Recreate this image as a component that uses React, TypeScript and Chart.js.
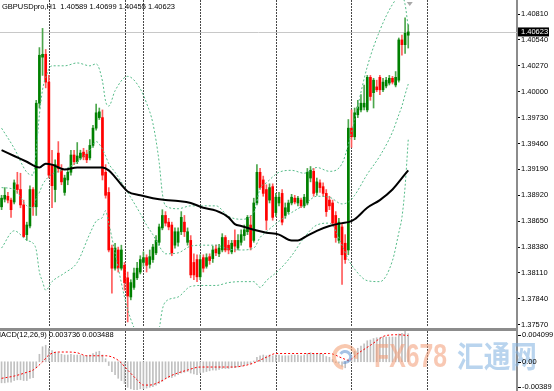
import React, { useEffect, useRef } from "react";
import { Chart, registerables } from "chart.js";

Chart.register(...registerables);

const FONT_FAMILY = '"Liberation Sans", Arial, sans-serif';
const FONT = `7.5px ${FONT_FAMILY}`;

const symbolLabel = "GBPUSDpro,H1";
const macdLabel = "MACD(12,26,9)";
const slotCount = 164;

const opens = [
  1.3880, 1.3888, 1.3891, 1.3887, 1.3885, 1.3903, 1.3898, 1.3882, 1.3851, 1.3860,
  1.3898, 1.3880, 1.3988, 1.4036, 1.4039, 1.4010, 1.3924, 1.3898, 1.3936, 1.3918,
  1.3895, 1.3908, 1.3916, 1.3934, 1.3927, 1.3931, 1.3937, 1.3935, 1.3931, 1.3944,
  1.3962, 1.3973, 1.3973, 1.3916, 1.3895, 1.3837, 1.3816, 1.3835, 1.3816, 1.3819,
  1.3806, 1.3786, 1.3796, 1.3806, 1.3812, 1.3822, 1.3827, 1.3820, 1.3825, 1.3832,
  1.3843, 1.3858, 1.3871, 1.3864, 1.3861, 1.3840, 1.3843, 1.3854, 1.3864, 1.3843,
  1.3845, 1.3822, 1.3825, 1.3807, 1.3827, 1.3818, 1.3828, 1.3826, 1.3836, 1.3831,
  1.3835, 1.3848, 1.3840, 1.3833, 1.3845, 1.3837, 1.3843, 1.3850, 1.3854, 1.3861,
  1.3845, 1.3884, 1.3916, 1.3908, 1.3898, 1.3887, 1.3901, 1.3874, 1.3884, 1.3894,
  1.3871, 1.3875, 1.3884, 1.3889, 1.3884, 1.3887, 1.3881, 1.3884, 1.3910, 1.3917,
  1.3895, 1.3905, 1.3901, 1.3894, 1.3887, 1.3884, 1.3871, 1.3845, 1.3859, 1.3842,
  1.3835, 1.3962, 1.3953, 1.3976, 1.3981, 1.3984, 1.3981, 1.4015, 1.3999, 1.4005,
  1.4015, 1.4002, 1.4006, 1.4009, 1.4014, 1.4007, 1.4012, 1.4054, 1.4049, 1.40589,
];
const highs = [
  1.3892, 1.3900, 1.3895, 1.3889, 1.3908, 1.3916, 1.3915, 1.3887, 1.3864, 1.3902,
  1.3900, 1.3991, 1.4046, 1.4066, 1.4044, 1.4017, 1.3939, 1.3929, 1.3948, 1.3924,
  1.3913, 1.3920, 1.3939, 1.3939, 1.3947, 1.3939, 1.3941, 1.3939, 1.3950, 1.3965,
  1.3987, 1.3983, 1.3981, 1.3924, 1.3900, 1.3840, 1.3842, 1.3838, 1.3840, 1.3822,
  1.3812, 1.3804, 1.3816, 1.3822, 1.3829, 1.3833, 1.3830, 1.3835, 1.3841, 1.3850,
  1.3862, 1.3877, 1.3875, 1.3868, 1.3864, 1.3858, 1.3858, 1.3875, 1.3871, 1.3858,
  1.3850, 1.3831, 1.3830, 1.3830, 1.3830, 1.3831, 1.3831, 1.3839, 1.3840, 1.3841,
  1.3852, 1.3850, 1.3845, 1.3845, 1.3856, 1.3851, 1.3856, 1.3861, 1.3871, 1.3871,
  1.3889, 1.3924, 1.3920, 1.3912, 1.3903, 1.3904, 1.3904, 1.3894, 1.3895, 1.3898,
  1.3884, 1.3887, 1.3893, 1.3892, 1.3891, 1.3889, 1.3893, 1.3920, 1.3922, 1.3920,
  1.3910, 1.3908, 1.3905, 1.3898, 1.3891, 1.3887, 1.3875, 1.3868, 1.3862, 1.3851,
  1.3971, 1.3981, 1.3983, 1.3991, 1.3997, 1.4007, 1.4017, 1.4017, 1.4014, 1.4012,
  1.4017, 1.4014, 1.4015, 1.4017, 1.4016, 1.4021, 1.4056, 1.4059, 1.4077, 1.40699,
];
const lows = [
  1.3877, 1.3885, 1.3884, 1.3869, 1.3883, 1.3894, 1.3879, 1.3848, 1.3845, 1.3858,
  1.3871, 1.3871, 1.3983, 1.4017, 1.4004, 1.3910, 1.3879, 1.3885, 1.3916, 1.3903,
  1.3892, 1.3903, 1.3913, 1.3924, 1.3925, 1.3929, 1.3929, 1.3926, 1.3929, 1.3942,
  1.3960, 1.3971, 1.3908, 1.3889, 1.3833, 1.3790, 1.3814, 1.3812, 1.3814, 1.3793,
  1.3760, 1.3783, 1.3794, 1.3804, 1.3810, 1.3818, 1.3812, 1.3816, 1.3822, 1.3830,
  1.3840, 1.3856, 1.3860, 1.3856, 1.3829, 1.3837, 1.3839, 1.3851, 1.3849, 1.3840,
  1.3806, 1.3804, 1.3802, 1.3804, 1.3812, 1.3816, 1.3820, 1.3822, 1.3829, 1.3828,
  1.3833, 1.3833, 1.3831, 1.3831, 1.3833, 1.3835, 1.3840, 1.3845, 1.3851, 1.3835,
  1.3843, 1.3882, 1.3898, 1.3891, 1.3856, 1.3884, 1.3866, 1.3870, 1.3881, 1.3861,
  1.3868, 1.3873, 1.3882, 1.3883, 1.3881, 1.3879, 1.3879, 1.3882, 1.3906, 1.3891,
  1.3892, 1.3895, 1.3891, 1.3870, 1.3877, 1.3860, 1.3843, 1.3842, 1.3799, 1.3821,
  1.3830, 1.3942, 1.3950, 1.3973, 1.3979, 1.3981, 1.3979, 1.3991, 1.3983, 1.4000,
  1.3997, 1.4000, 1.4004, 1.4007, 1.4008, 1.4005, 1.4010, 1.4038, 1.4040, 1.40455,
];
const closes = [
  1.3889, 1.3892, 1.3887, 1.3877, 1.3905, 1.3898, 1.3882, 1.3849, 1.3861, 1.3898,
  1.3880, 1.3988, 1.4038, 1.4039, 1.4010, 1.3913, 1.3902, 1.3924, 1.3920, 1.3906,
  1.3910, 1.3916, 1.3934, 1.3927, 1.3933, 1.3936, 1.3932, 1.3929, 1.3944, 1.3962,
  1.3978, 1.3979, 1.3913, 1.3892, 1.3835, 1.3816, 1.3837, 1.3816, 1.3835, 1.3801,
  1.3787, 1.3801, 1.3811, 1.3816, 1.3825, 1.3827, 1.3819, 1.3828, 1.3838, 1.3845,
  1.3859, 1.3871, 1.3863, 1.3859, 1.3832, 1.3854, 1.3854, 1.3869, 1.3854, 1.3854,
  1.3809, 1.3809, 1.3807, 1.3825, 1.3816, 1.3827, 1.3824, 1.3835, 1.3832, 1.3837,
  1.3848, 1.3835, 1.3835, 1.3842, 1.3839, 1.3845, 1.3851, 1.3856, 1.3869, 1.3838,
  1.3884, 1.3916, 1.3900, 1.3894, 1.3866, 1.3900, 1.3869, 1.3890, 1.3890, 1.3864,
  1.3879, 1.3884, 1.3890, 1.3885, 1.3889, 1.3881, 1.3890, 1.3916, 1.3918, 1.3894,
  1.3906, 1.3900, 1.3894, 1.3875, 1.3881, 1.3863, 1.3848, 1.3864, 1.3830, 1.3825,
  1.3962, 1.3953, 1.3978, 1.3984, 1.3988, 1.3988, 1.4015, 1.3995, 1.4012, 1.4002,
  1.4002, 1.4010, 1.4012, 1.4014, 1.4010, 1.4015, 1.4054, 1.4049, 1.4061, 1.40623,
];

// Bollinger bands (20, 2) read at sample bars: [bar index, price]
const upperBand: [number, number][] = [
  [0, 1.3962], [4, 1.3941], [8, 1.3916], [10, 1.3913], [11, 1.3939], [12, 1.3976], [13, 1.4002],
  [14, 1.4015], [16, 1.4027], [20, 1.4027], [24, 1.4030], [28, 1.4027], [30, 1.4029], [32, 1.4011],
  [33, 1.3990], [34, 1.3985], [36, 1.4001], [40, 1.4016], [44, 1.4003], [46, 1.3988], [48, 1.3967],
  [50, 1.3926], [51, 1.3894], [52, 1.3881], [56, 1.3878], [60, 1.3881], [64, 1.3881], [68, 1.3881],
  [72, 1.3870], [76, 1.3867], [80, 1.3874], [82, 1.3899], [84, 1.3905], [88, 1.3916], [92, 1.3918],
  [96, 1.3915], [100, 1.3921], [104, 1.3917], [108, 1.3925], [110, 1.3945], [112, 1.3971],
  [116, 1.4026], [120, 1.4064], [124, 1.4091], [126, 1.4099], [127, 1.4100], [128, 1.4091], [129, 1.4067],
];
const middleBand: [number, number][] = [
  [0, 1.3900], [4, 1.3898], [8, 1.3881], [10, 1.3879], [11, 1.3889], [12, 1.3895], [13, 1.3903],
  [14, 1.3908], [16, 1.3914], [20, 1.3919], [24, 1.3927], [28, 1.3939], [30, 1.3948], [32, 1.3940],
  [33, 1.3933], [34, 1.3925], [36, 1.3916], [40, 1.3895], [44, 1.3873], [46, 1.3861], [48, 1.3851],
  [50, 1.3839], [51, 1.3834], [52, 1.3831], [56, 1.3832], [60, 1.3839], [64, 1.3840], [68, 1.3840],
  [72, 1.3836], [76, 1.3835], [80, 1.3837], [82, 1.3848], [84, 1.3854], [88, 1.3865], [92, 1.3874],
  [96, 1.3882], [100, 1.3891], [104, 1.3890], [108, 1.3883], [110, 1.3885], [112, 1.3892],
  [116, 1.3914], [120, 1.3933], [124, 1.3958], [126, 1.3976], [127, 1.3985], [128, 1.3997], [129, 1.4008],
];
const lowerBand: [number, number][] = [
  [0, 1.3837], [4, 1.3855], [8, 1.3845], [10, 1.3842], [11, 1.3835], [12, 1.3812], [13, 1.3802],
  [14, 1.3793], [16, 1.3802], [20, 1.3811], [24, 1.3822], [28, 1.3852], [30, 1.3865], [32, 1.3869],
  [33, 1.3876], [34, 1.3863], [36, 1.3832], [40, 1.3773], [44, 1.3741], [46, 1.3734], [48, 1.3734],
  [50, 1.3753], [51, 1.3773], [52, 1.3781], [56, 1.3786], [60, 1.3797], [64, 1.3798], [68, 1.3798],
  [72, 1.3801], [76, 1.3802], [80, 1.3802], [82, 1.3796], [84, 1.3803], [88, 1.3814], [92, 1.3829],
  [96, 1.3848], [100, 1.3861], [104, 1.3863], [108, 1.3840], [110, 1.3825], [112, 1.3815],
  [116, 1.3803], [120, 1.3802], [124, 1.3824], [126, 1.3853], [127, 1.3869], [128, 1.3901], [129, 1.3950],
];
// Black moving average read at sample bars
const maLine: [number, number][] = [
  [0, 1.3939], [4, 1.3933], [8, 1.3927], [12, 1.3921], [14, 1.3925], [16, 1.3924], [20, 1.3919],
  [24, 1.3921], [28, 1.3921], [32, 1.3921], [34, 1.3918], [36, 1.3911], [38, 1.3903], [40, 1.3896],
  [44, 1.3892], [48, 1.3889], [52, 1.3887], [56, 1.3886], [60, 1.3884], [64, 1.3879], [68, 1.3876],
  [72, 1.3869], [74, 1.3862], [76, 1.3860], [80, 1.3856], [84, 1.3853], [88, 1.3851], [92, 1.3845],
  [94, 1.3845], [96, 1.3848], [100, 1.3855], [104, 1.3860], [108, 1.3863], [110, 1.3864],
  [112, 1.3867], [116, 1.3879], [120, 1.3887], [124, 1.3898], [128, 1.3914], [129, 1.3918],
];

const separators = [15, 39, 45, 63, 87, 111, 135];
const priceTicks = [
  1.4081, 1.4054, 1.4027, 1.4, 1.3973, 1.3946, 1.3919, 1.3892, 1.3865, 1.3838, 1.3811, 1.3784, 1.3757,
];
const priceMin = 1.37547;
const priceMax = 1.40956;

const macdMain = [
  -0.0028, -0.0028, -0.0027, -0.0027, -0.0025, -0.0024, -0.0024, -0.0025, -0.0025, -0.0022,
  -0.0021, -0.0008, 0.0010, 0.0020, 0.0022, 0.0018, 0.0015, 0.0013, 0.0012, 0.0010,
  0.0009, 0.0009, 0.0010, 0.0009, 0.0009, 0.0009, 0.0008, 0.0008, 0.0009, 0.0011,
  0.0013, 0.0014, 0.0009, 0.0004, -0.0005, -0.0013, -0.0017, -0.0022, -0.0025, -0.0029,
  -0.0034, -0.0036, -0.0037, -0.0037, -0.0036, -0.0036, -0.0035, -0.0034, -0.0033, -0.0031,
  -0.0029, -0.0026, -0.0022, -0.0021, -0.0021, -0.0019, -0.0017, -0.0015, -0.0014, -0.0013,
  -0.0015, -0.0016, -0.0017, -0.0015, -0.0014, -0.0013, -0.0012, -0.0011, -0.0011, -0.0010,
  -0.0009, -0.0009, -0.0009, -0.0008, -0.0008, -0.0007, -0.0006, -0.0005, -0.0003, -0.0003,
  0.0001, 0.0006, 0.0008, 0.0009, 0.0008, 0.0009, 0.0008, 0.0009, 0.0009, 0.0008,
  0.0008, 0.0008, 0.0009, 0.0009, 0.0009, 0.0008, 0.0009, 0.0011, 0.0012, 0.0011,
  0.0011, 0.0011, 0.0010, 0.0007, 0.0006, 0.0003, -0.0001, -0.0002, -0.0006, -0.0008,
  0.0002, 0.0008, 0.0014, 0.0018, 0.0021, 0.0024, 0.0028, 0.0029, 0.0031, 0.0032,
  0.0032, 0.0033, 0.0033, 0.0033, 0.0033, 0.0033, 0.0037, 0.0038, 0.0041, 0.003736,
];
const macdSignal: [number, number][] = [
  [0, -0.0022], [4, -0.0019], [8, -0.0014], [10, -0.0011], [13, 0.0], [15, 0.0009], [18, 0.0013],
  [21, 0.0013], [24, 0.0012], [27, 0.0008], [30, 0.0008], [33, 0.0008], [37, 0.0002], [40, -0.0011],
  [43, -0.0024], [45, -0.0031], [47, -0.0031], [50, -0.0027], [54, -0.0018], [59, -0.0011],
  [63, -0.0007], [68, -0.0007], [73, -0.0007], [79, -0.0003], [84, 0.0006], [87, 0.0011],
  [93, 0.0011], [98, 0.0011], [104, 0.0011], [108, 0.0005], [110, 0.0002], [113, 0.0011],
  [117, 0.0022], [122, 0.0035], [126, 0.0036], [129, 0.003488],
];
const macdMax = 0.004099;
const macdMin = -0.00389;
const macdTicks = [0.004099, 0, -0.00389];
const macdTickLabels = ["0.004099", "0.00", "-0.00389"];

const BAND_COLOR = "#55bb88";
const BULL = "#008000";
const BEAR = "#ff0000";
const BULL_WICK = "#4ca64c";
const BEAR_WICK = "#ff5c5c";
const AXIS_W = 37;

function drawSeparators(ctx: CanvasRenderingContext2D, xs: any, top: number, bottom: number) {
  ctx.save();
  ctx.strokeStyle = "rgba(40,40,40,0.85)";
  ctx.lineWidth = 1;
  ctx.setLineDash([2, 1]);
  separators.forEach((idx) => {
    const px = Math.round(xs.getPixelForValue(idx)) + 0.5;
    ctx.beginPath();
    ctx.moveTo(px, top);
    ctx.lineTo(px, bottom);
    ctx.stroke();
  });
  ctx.restore();
}

const mainDecor = {
  id: "mainDecor",
  beforeDatasetsDraw(chart: any) {
    const { ctx, chartArea: a, scales } = chart;
    const last = closes[closes.length - 1];
    const by = Math.round(scales.y.getPixelForValue(last)) + 0.5;
    ctx.save();
    ctx.strokeStyle = "#c8c8c8";
    ctx.lineWidth = 1;
    ctx.beginPath();
    ctx.moveTo(a.left, by);
    ctx.lineTo(a.right, by);
    ctx.stroke();
    ctx.restore();
    drawSeparators(ctx, scales.x, a.top, a.bottom);
  },
  afterDraw(chart: any) {
    const { ctx, chartArea: a, scales } = chart;
    const n = closes.length - 1;
    ctx.save();
    ctx.font = FONT;
    ctx.fillStyle = "#000";
    ctx.textBaseline = "middle";
    const header =
      symbolLabel + "  " + [opens[n], highs[n], lows[n], closes[n]].map((v) => v.toFixed(5)).join(" ");
    ctx.fillText(header, 2, 7);
    const py = scales.y.getPixelForValue(closes[n]);
    ctx.fillStyle = "#000";
    ctx.fillRect(a.right + 1, py - 4.5, 31, 9);
    ctx.fillStyle = "#fff";
    ctx.fillText(closes[n].toFixed(5), a.right + 4, py);
    const sx = scales.x.getPixelForValue(n) + 1.5;
    ctx.fillStyle = "#a8a8a8";
    ctx.beginPath();
    ctx.moveTo(sx - 3, 2);
    ctx.lineTo(sx + 3, 2);
    ctx.lineTo(sx, 6);
    ctx.closePath();
    ctx.fill();
    ctx.fillStyle = "#8c8c8c";
    ctx.fillRect(0, a.bottom + 1, a.right + 1, 3);
    ctx.restore();
  },
};

const macdDecor = {
  id: "macdDecor",
  beforeDatasetsDraw(chart: any) {
    const { ctx, chartArea: a, scales } = chart;
    drawSeparators(ctx, scales.x, a.top, a.bottom);
  },
  afterDraw(chart: any) {
    const { ctx, chartArea: a, scales } = chart;
    ctx.save();
    ctx.globalAlpha = 0.55;
    ctx.lineWidth = 4;
    ctx.strokeStyle = "#f29a6e";
    ctx.beginPath();
    ctx.arc(345, 26, 11, Math.PI * 0.55, Math.PI * 2.05);
    ctx.stroke();
    ctx.lineWidth = 3;
    ctx.strokeStyle = "#5d8fcf";
    ctx.beginPath();
    ctx.arc(345, 26, 5.5, Math.PI * 1.2, Math.PI * 2.6);
    ctx.stroke();
    ctx.font = `bold 34px ${FONT_FAMILY}`;
    ctx.textBaseline = "alphabetic";
    const fxText = "FX678";
    const fxW = ctx.measureText(fxText).width;
    ctx.save();
    ctx.translate(374, 36);
    ctx.scale(73 / fxW, 1);
    ctx.fillStyle = "#f39b74";
    ctx.fillText(fxText, 0, 0);
    ctx.restore();
    ctx.font = `bold 30px "Noto Sans CJK SC", sans-serif`;
    const cnText = "汇通网";
    const cnW = ctx.measureText(cnText).width;
    ctx.save();
    ctx.translate(457, 36);
    ctx.scale(80 / cnW, 1);
    ctx.fillStyle = "#7fb0e0";
    ctx.fillText(cnText, 0, 0);
    ctx.restore();
    ctx.globalAlpha = 1;
    ctx.font = FONT;
    ctx.fillStyle = "#000";
    ctx.textBaseline = "middle";
    const offs = [3.5, 0, -4.3];
    macdTicks.forEach((v, k) => {
      const ty = scales.y.getPixelForValue(v) + offs[k];
      ctx.fillRect(a.right + 1, Math.round(ty), 3, 1);
      ctx.fillText(macdTickLabels[k], a.right + 5, ty);
    });
    const n = macdMain.length - 1;
    const head =
      macdLabel + " " + macdMain[n].toFixed(6) + " " + macdSignal[macdSignal.length - 1][1].toFixed(6);
    const mW = ctx.measureText("M").width;
    ctx.fillText(head, 1 - mW, 4);
    ctx.restore();
  },
};

function xScaleCfg() {
  return {
    type: "linear" as const,
    min: -0.5,
    max: slotCount - 0.5,
    offset: false,
    grace: 0,
    display: false,
  };
}

export default function App() {
  const mainRef = useRef<HTMLCanvasElement>(null);
  const macdRef = useRef<HTMLCanvasElement>(null);

  useEffect(() => {
    Chart.defaults.font.family = FONT_FAMILY;
    const up = closes.map((c, i) => c >= opens[i]);
    const line = (pts: [number, number][], color: string, width: number, dash: number[], order: number) => ({
      type: "line" as const,
      data: pts.map(([x, y]) => ({ x, y })),
      borderColor: color,
      borderWidth: width,
      borderDash: dash,
      pointRadius: 0,
      cubicInterpolationMode: "monotone" as const,
      order,
    });

    const mainChart = new Chart(mainRef.current as HTMLCanvasElement, {
      type: "bar",
      data: {
        datasets: [
          line(upperBand, BAND_COLOR, 1, [2, 2], 1),
          line(middleBand, BAND_COLOR, 1, [2, 2], 1),
          line(lowerBand, BAND_COLOR, 1, [2, 2], 1),
          line(maLine, "#000000", 2, [], 0),
          {
            type: "bar",
            data: highs.map((h, i) => ({ x: i, y: [lows[i], h] })),
            backgroundColor: up.map((u) => (u ? BULL_WICK : BEAR_WICK)),
            barThickness: 1,
            grouped: false,
            borderWidth: 0,
            order: 3,
          } as any,
          {
            type: "bar",
            data: opens.map((o, i) => ({ x: i, y: [o, closes[i]] })),
            backgroundColor: up.map((u) => (u ? BULL : BEAR)),
            barThickness: 2,
            grouped: false,
            borderWidth: 0,
            minBarLength: 1,
            order: 2,
          } as any,
        ],
      },
      options: {
        responsive: false,
        animation: false,
        devicePixelRatio: 1,
        events: [],
        layout: { padding: { top: 0, bottom: 4, left: 0, right: 0 } },
        plugins: { legend: { display: false }, tooltip: { enabled: false } },
        scales: {
          x: xScaleCfg(),
          y: {
            type: "linear",
            position: "right",
            min: priceMin,
            max: priceMax,
            afterBuildTicks: (s: any) => {
              s.ticks = priceTicks.map((value) => ({ value }));
            },
            afterFit: (s: any) => {
              s.width = AXIS_W;
              s.paddingTop = 0;
              s.paddingBottom = 0;
            },
            ticks: {
              autoSkip: false,
              padding: 1,
              color: "#000",
              font: { size: 7.5, family: FONT_FAMILY },
              callback: (v: any) => Number(v).toFixed(5),
            },
            grid: { drawOnChartArea: false, tickLength: 3, color: "#000", tickWidth: 1 },
            border: { display: true, color: "#8c8c8c", width: 2 },
          },
        },
      },
      plugins: [mainDecor],
    } as any);

    const macdChart = new Chart(macdRef.current as HTMLCanvasElement, {
      type: "bar",
      data: {
        datasets: [
          line(macdSignal, "#ff0000", 1, [2, 2], 0),
          {
            type: "bar",
            data: macdMain.map((v, i) => ({ x: i, y: v })),
            backgroundColor: "#c0c0c0",
            barThickness: 1,
            grouped: false,
            borderWidth: 0,
            order: 1,
          } as any,
        ],
      },
      options: {
        responsive: false,
        animation: false,
        devicePixelRatio: 1,
        events: [],
        layout: { padding: 0 },
        plugins: { legend: { display: false }, tooltip: { enabled: false } },
        scales: {
          x: xScaleCfg(),
          y: {
            type: "linear",
            position: "right",
            min: macdMin,
            max: macdMax,
            ticks: { display: false },
            grid: { display: false, drawTicks: false },
            afterFit: (s: any) => {
              s.width = AXIS_W;
              s.paddingTop = 0;
              s.paddingBottom = 0;
            },
            border: { display: true, color: "#8c8c8c", width: 2 },
          },
        },
      },
      plugins: [macdDecor],
    } as any);

    return () => {
      mainChart.destroy();
      macdChart.destroy();
    };
  }, []);

  return (
    <div
      style={{
        position: "fixed",
        left: 0,
        top: 0,
        width: 554,
        height: 391,
        background: "#ffffff",
        overflow: "hidden",
      }}
    >
      <canvas
        ref={mainRef}
        width={554}
        height={331}
        style={{ position: "absolute", left: 0, top: 0, width: 554, height: 331 }}
      />
      <canvas
        ref={macdRef}
        width={554}
        height={60}
        style={{ position: "absolute", left: 0, top: 331, width: 554, height: 60 }}
      />
    </div>
  );
}
